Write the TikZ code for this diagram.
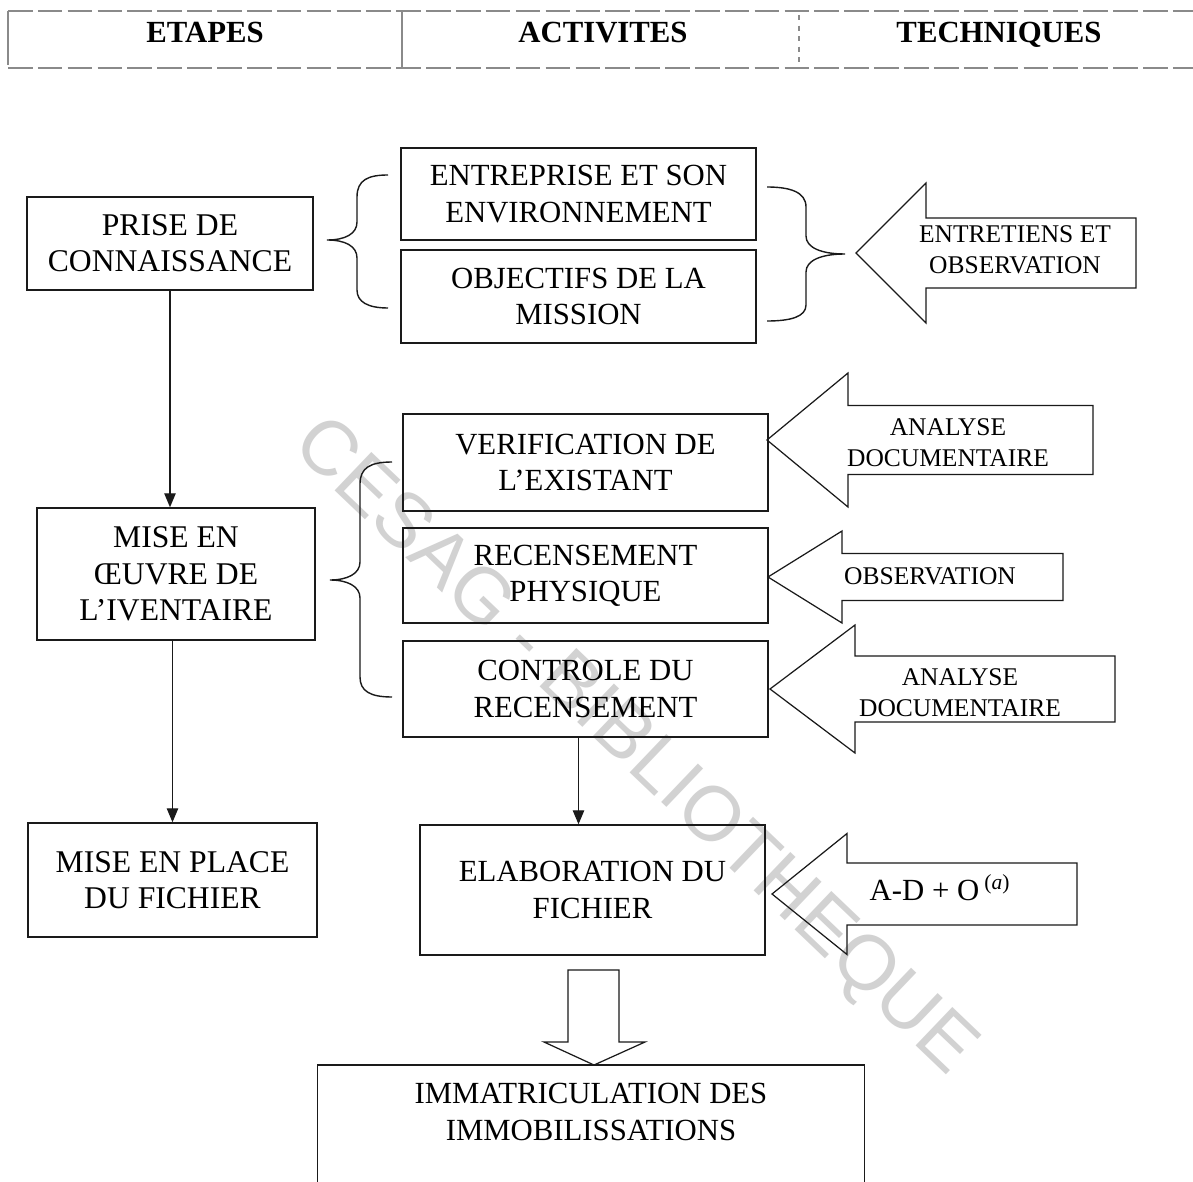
\documentclass[tikz,border=0pt]{standalone}
\usepackage{fontspec}
\setmainfont{Liberation Serif}
\newfontfamily\filigranefont{Liberation Sans}
\usepackage{tikz}
\usetikzlibrary{arrows.meta, positioning, calc}
\usepackage{xcolor}
\definecolor{traitcol}{HTML}{1A1A1A}
\definecolor{enteteligne}{HTML}{8A8A8A}
\definecolor{filigranecol}{HTML}{D2D2D2}

\begin{document}
\begin{tikzpicture}[
  x=0.02cm, y=-0.02cm,
  line width=0.8pt, draw=traitcol,
  etape/.style={draw, align=center, font=\fontsize{18}{20.7}\selectfont, inner sep=0pt},
  activite/.style={draw, align=center, font=\fontsize{17.5}{20.7}\selectfont, inner sep=0pt},
  technique/.style={align=center, font=\fontsize{14.5}{17.6}\selectfont},
  entete/.style={font=\fontsize{17.5}{20}\selectfont\bfseries, text height=12pt, text depth=0pt},
  fleche/.style={-{Triangle[length=8pt, width=6.5pt]}},
  creux/.style={draw, line width=0.7pt, line join=miter},
  filigrane/.style={text=filigranecol, font=\filigranefont\fontsize{44}{44}\selectfont}
]
\path[use as bounding box, fill=white] (0,0) rectangle (1193,1182);

% watermark behind everything
\node[filigrane, rotate=-43.7] (filigrane) at (633,748) {CESAG - BIBLIOTHEQUE};

% header row
\draw[enteteligne, dashed, dash pattern=on 14pt off 3pt, line width=0.6pt] (8,11) -- (1193,11);
\draw[enteteligne, dashed, dash pattern=on 14pt off 3pt, line width=0.6pt] (8,68) -- (1193,68);
\draw[enteteligne, line width=0.6pt] (8,11) -- (8,65);
\draw[enteteligne, line width=0.7pt] (402,11) -- (402,68);
\draw[enteteligne, dashed, line width=0.6pt] (799,15) -- (799,62);
\node[entete] (etapes) at (205,32) {ETAPES};
\node[entete] (activites) at (603,32) {ACTIVITES};
\node[entete] (techniques) at (999,32) {TECHNIQUES};

% etapes
\node[etape, minimum width=5.72cm, minimum height=1.86cm] (prise) at (170,243.5) {PRISE DE\\CONNAISSANCE};
\node[etape, minimum width=5.56cm, minimum height=2.64cm] (oeuvre) at (176,574) {MISE EN\\ŒUVRE DE\\L’IVENTAIRE};
\node[etape, minimum width=5.78cm, minimum height=2.28cm] (fichier) at (172.5,880) {MISE EN PLACE\\DU FICHIER};

\draw[fleche] (prise.south) -- (prise.south |- oeuvre.north);
\draw[fleche] (oeuvre.south -| fichier.north) -- (fichier.north);

% activites
\node[activite, minimum width=7.10cm, minimum height=1.84cm] (entreprise) at (578.5,194) {ENTREPRISE ET SON\\ENVIRONNEMENT};
\node[activite, minimum width=7.10cm, minimum height=1.86cm] (objectifs) at (578.5,296.5) {OBJECTIFS DE LA\\MISSION};
\node[activite, minimum width=7.30cm, minimum height=1.94cm] (verif) at (585.5,462.5) {VERIFICATION DE\\L’EXISTANT};
\node[activite, minimum width=7.30cm, minimum height=1.90cm] (recens) at (585.5,575.5) {RECENSEMENT\\PHYSIQUE};
\node[activite, minimum width=7.30cm, minimum height=1.92cm] (controle) at (585.5,689) {CONTROLE DU\\RECENSEMENT};
\node[activite, minimum width=6.90cm, minimum height=2.60cm] (elab) at (592.5,890) {ELABORATION DU\\FICHIER};
\node[activite, draw=none, minimum width=10.92cm, minimum height=2.34cm, anchor=north] (imm) at (591,1065) {};
\node[activite, draw=none] (immtexte) at (591,1112) {IMMATRICULATION DES\\IMMOBILISSATIONS};
\draw (imm.south west) -- (imm.north west) -- (imm.north east) -- (imm.south east);

\coordinate (controlebas) at ($(controle.south)+(-7,0)$);
\draw[fleche] (controlebas) -- (controlebas |- elab.north);
\draw[creux] (568,970) -- (619,970) -- (619,1042) -- (645,1042) -- (594,1065) -- (544,1042) -- (568,1042) -- cycle;

% braces
\draw (388,175) .. controls (368,175) and (357,180) .. (357,197) -- (357,222)
  .. controls (357,234) and (345,240) .. (327,240)
  .. controls (345,240) and (357,246) .. (357,258) -- (357,290)
  .. controls (357,302) and (368,308) .. (388,308);
\draw (767,187) .. controls (790,187) and (806,192) .. (806,207) -- (806,236)
  .. controls (806,248) and (822,254) .. (845,254)
  .. controls (822,254) and (806,260) .. (806,272) -- (806,305)
  .. controls (806,317) and (790,321) .. (767,321);
\draw (392,462) .. controls (370,462) and (360,468) .. (360,484) -- (360,562)
  .. controls (360,574) and (347,580) .. (330,580)
  .. controls (347,580) and (360,586) .. (360,598) -- (360,677)
  .. controls (360,691) and (370,697) .. (392,697);

% techniques (hollow arrows pointing left)
\foreach \tx/\cy/\bx/\rx/\hh/\sh in {856/253/926/1136/70/35, 767/440/848/1093/67/34.5,
    768/577/842/1063/46/23.5, 770/689/855/1115/64/33, 772/894/847/1077/60.5/31}
  \draw[creux] (\tx,\cy) -- (\bx,\cy-\hh) -- (\bx,\cy-\sh) -- (\rx,\cy-\sh)
    -- (\rx,\cy+\sh) -- (\bx,\cy+\sh) -- (\bx,\cy+\hh) -- cycle;

\node[technique] (entretiens) at (1015,250) {ENTRETIENS ET\\OBSERVATION};
\node[technique] (analyse1) at (948,443) {ANALYSE\\DOCUMENTAIRE};
\node[technique] (observation) at (930,576) {OBSERVATION};
\node[technique] (analyse2) at (960,693) {ANALYSE\\DOCUMENTAIRE};
\node[technique, font=\fontsize{17.5}{20}\selectfont] (ado) at (940,888) {A-D + O\,\textsuperscript{(\textit{a})}};
\end{tikzpicture}
\end{document}
